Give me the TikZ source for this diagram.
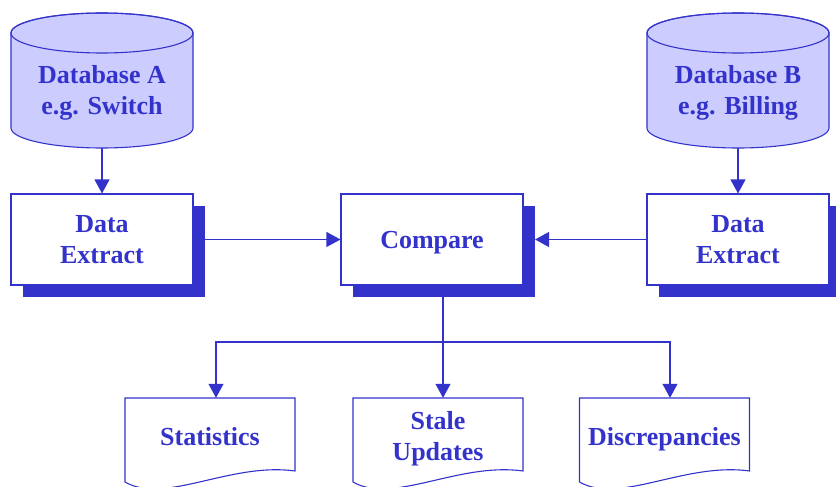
\documentclass[tikz,border=0pt]{standalone}
\usepackage{fontspec}
\setmainfont{Liberation Serif}
\usetikzlibrary{arrows.meta,shadows}

\definecolor{ink}{HTML}{3333CC}
\definecolor{cylfill}{HTML}{CCCCFF}

% centred lines of text, lowered inside their node without changing its size
\newcommand\lowtext[2]{\raisebox{-#1}[\height][\depth]{\begin{tabular}{@{}c@{}}#2\end{tabular}}}

\tikzset{
  label text/.style={text=ink, font=\fontsize{26}{31}\selectfont\bfseries, align=center},
  conn/.style={draw=ink, line width=1.1pt},
  arr/.style={conn, -{Triangle[width=15pt,length=14pt]}},
  procbox/.style={label text, draw=ink, line width=1.1pt, fill=white,
    minimum width=182pt, minimum height=91pt, inner sep=0pt,
    general shadow={fill=ink, shadow xshift=11.5pt, shadow yshift=-11.5pt}},
  docnode/.style={label text, minimum width=170pt, minimum height=78pt, inner sep=0pt},
  docshape/.pic={
    \draw[conn, fill=white] (0,0) -- (170,0) -- (170,73)
      .. controls (105,64) and (40,107) .. (0,84) -- cycle;
  },
}

\begin{document}
\begin{tikzpicture}[x=1pt, y=-1pt]
  \useasboundingbox (0,0) rectangle (836,487);

  % database cylinders
  \foreach \cx/\nm in {102/A, 738/B} {
    \filldraw[draw=ink, line width=1.1pt, fill=cylfill]
      (\cx-91,33) -- (\cx-91,128)
      arc[start angle=180, end angle=0, x radius=91, y radius=20]
      -- (\cx+91,33)
      arc[start angle=0, end angle=-180, x radius=91, y radius=20] -- cycle;
    \draw[draw=ink, line width=1.1pt] (\cx,33) ellipse[x radius=91, y radius=20];
    \coordinate (db\nm bottom) at (\cx,148);
  }
  \node[label text] (dbA) at (102,93) {Database A\\e.g. Switch};
  \node[label text] (dbB) at (738,93) {Database B\\e.g. Billing};

  % process boxes with solid drop shadows
  \node[procbox] (extA) at (102,239.5) {\lowtext{2pt}{Data\\Extract}};
  \node[procbox] (cmp)  at (432,239.5) {\lowtext{3pt}{Compare}};
  \node[procbox] (extB) at (738,239.5) {\lowtext{2pt}{Data\\Extract}};

  % output documents
  \pic at (125,398) {docshape};
  \pic at (353,398) {docshape};
  \pic at (579.5,398) {docshape};
  \node[docnode] (stat)  at (210,437)   {\lowtext{2pt}{Statistics}};
  \node[docnode] (stale) at (438,437)   {\lowtext{2pt}{Stale\\Updates}};
  \node[docnode] (disc)  at (664.5,437) {\lowtext{2pt}{Discrepancies}};

  % connectors
  \draw[arr] (dbAbottom) -- (extA.north);
  \draw[arr] (dbBbottom) -- (extB.north);
  \draw[arr] (extA.east) -- (cmp.west);
  \draw[arr] (extB.west) -- ([xshift=11.5pt]cmp.east);

  \coordinate (hub) at (443,342);
  \draw[conn] ([yshift=-11.5pt]cmp.south -| hub) -- (hub);
  \draw[arr] (hub) -- (stale.north -| hub);
  \draw[arr] (hub) -| ([xshift=6pt]stat.north);
  \draw[arr] (hub) -| ([xshift=5.5pt]disc.north);
\end{tikzpicture}
\end{document}
